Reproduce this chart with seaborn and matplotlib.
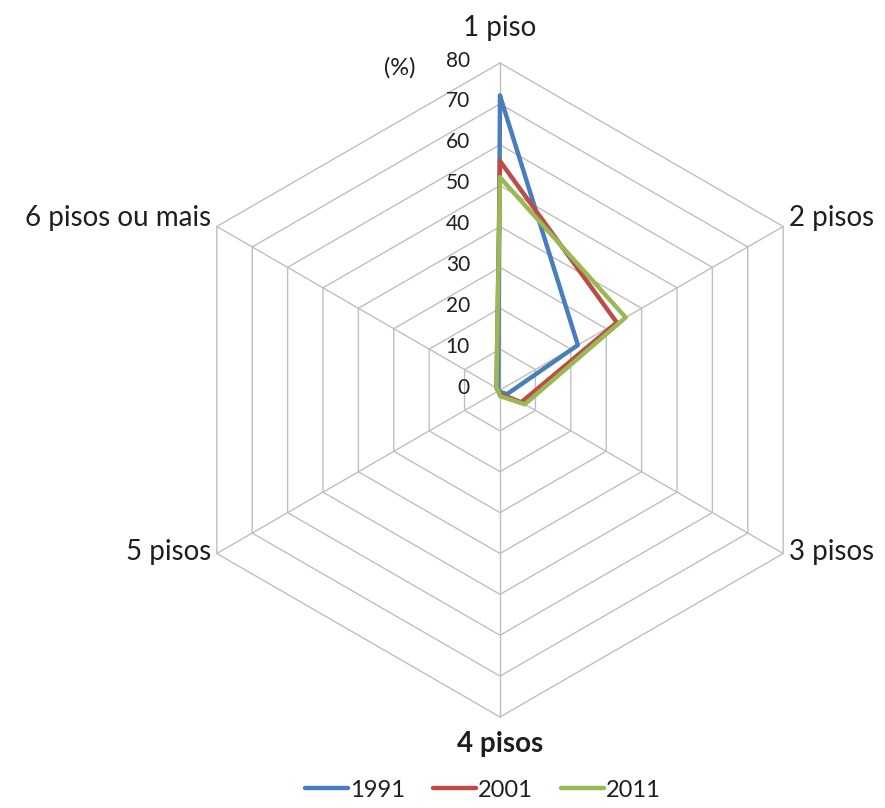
import numpy as np
import pandas as pd
import matplotlib
matplotlib.use("Agg")
import matplotlib.pyplot as plt
import seaborn as sns

# data
categories = ["1 piso", "2 pisos", "3 pisos", "4 pisos", "5 pisos", "6 pisos ou mais"]
years = ["1991", "2001", "2011"]
values_1991 = [72, 22, 2, 0.5, 0.3, 0.5]
values_2001 = [56, 33, 6, 1, 0.5, 1]
values_2011 = [52, 35.5, 7, 1.5, 0.5, 1]
ticks = [0, 10, 20, 30, 40, 50, 60, 70, 80]
colors = ["#4a7ebb", "#be4b48", "#98b954"]

sns.set_style("white")
plt.rcParams["font.family"] = ["Lato", "DejaVu Sans"]
txt_col = "#1f1f1f"

n = len(categories)
theta = np.arange(n) * 2 * np.pi / n  # clockwise from top
rmax = ticks[-1]


def to_xy(r, ang):
    return r * np.sin(ang), r * np.cos(ang)


# long-form table, each series closed back to the first category
rows = []
for year, vals in zip(years, [values_1991, values_2001, values_2011]):
    for i in list(range(n)) + [0]:
        x, y = to_xy(vals[i], theta[i])
        rows.append({"year": year, "x": x, "y": y})
df = pd.DataFrame(rows)

fig = plt.figure(figsize=(8.85, 8.08), dpi=100)
ax = fig.add_axes([0, 0, 1, 1])
scale = 327 / rmax  # px per unit
cx, cy = 500, 390  # center in pixels from top-left
ax.set_xlim(-cx / scale, (885 - cx) / scale)
ax.set_ylim(-(808 - cy) / scale, cy / scale)
ax.axis("off")

# hexagon grid + spokes
grid_col = "#bfbfbf"
ang_closed = np.append(theta, theta[0])
for t in ticks[1:]:
    gx, gy = to_xy(t, ang_closed)
    ax.plot(gx, gy, color=grid_col, lw=1.0, zorder=1)
for a in theta:
    sx, sy = to_xy(rmax, a)
    ax.plot([0, sx], [0, sy], color=grid_col, lw=1.0, zorder=1)

sns.lineplot(data=df, x="x", y="y", hue="year", palette=colors, sort=False,
             estimator=None, lw=3.2, ax=ax, zorder=3, legend=False)

# tick labels on the vertical axis
for t in ticks:
    ax.text(-30 / scale, t + 0.6, str(t), ha="right", va="center", fontsize=15,
            color=txt_col)
ax.text(-100 / scale, rmax - 1.2, "(%)", ha="center", va="center", fontsize=17,
        color=txt_col)

# category labels
fs = 20
ax.text(0, rmax + 8.6, categories[0], ha="center", va="center", fontsize=fs, color=txt_col)
x, y = to_xy(rmax, theta[1])
ax.text(x + 1.3, y + 2.0, categories[1], ha="left", va="center", fontsize=fs, color=txt_col)
x, y = to_xy(rmax, theta[2])
ax.text(x + 1.3, y + 0.4, categories[2], ha="left", va="center", fontsize=fs, color=txt_col)
ax.text(0, -rmax - 6.5, categories[3], ha="center", va="center", fontsize=fs,
        fontweight="bold", color=txt_col)
x, y = to_xy(rmax, theta[4])
ax.text(x - 1.3, y + 0.4, categories[4], ha="right", va="center", fontsize=fs, color=txt_col)
x, y = to_xy(rmax, theta[5])
ax.text(x - 1.3, y + 2.0, categories[5], ha="right", va="center", fontsize=fs, color=txt_col)

handles = [plt.Line2D([], [], color=c, lw=3.2) for c in colors]
leg = fig.legend(handles, years, loc="center", bbox_to_anchor=(0.546, 0.022), ncol=3,
                 frameon=False, fontsize=17, handlelength=1.8, handletextpad=0.1,
                 columnspacing=1.2)
for t in leg.get_texts():
    t.set_color(txt_col)

fig.savefig("out.png", dpi=100)
